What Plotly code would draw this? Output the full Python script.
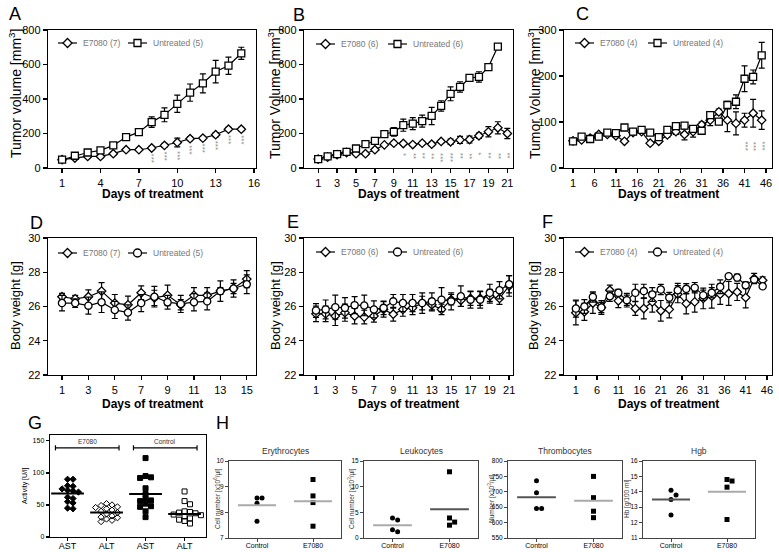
import plotly.graph_objects as go

W, H = 779, 552
FONT = "Liberation Sans, Arial, sans-serif"

# ---------------- data ----------------
A_days = list(range(1, 16))
A_untreated = [48, 71, 90, 102, 131, 179, 208, 266, 308, 372, 437, 491, 559, 593, 665]
A_untreated_err = [8, 10, 12, 15, 15, 15, 15, 30, 40, 50, 50, 55, 65, 50, 35]
A_e7080 = [48, 58, 67, 67, 83, 106, 106, 116, 131, 148, 170, 173, 193, 225, 225]
A_e7080_err = [5, 5, 8, 8, 8, 8, 8, 10, 12, 25, 12, 10, 12, 10, 10]
A_star_days = [8, 9, 10, 11, 12, 13, 14, 15]
A_stars = ["***"] * 8

B_days = list(range(1, 22))
B_untreated_days = list(range(1, 21))
B_untreated = [52, 67, 81, 94, 113, 138, 157, 196, 209, 248, 257, 272, 302, 360, 430, 470, 522, 528, 585, 704]
B_untreated_err = [8, 8, 8, 8, 8, 8, 8, 10, 25, 35, 35, 35, 50, 30, 40, 30, 15, 30, 10, 15]
B_e7080 = [52, 63, 77, 90, 83, 83, 106, 134, 144, 142, 136, 144, 138, 154, 152, 163, 165, 187, 210, 233, 200]
B_e7080_err = [5, 5, 5, 8, 8, 8, 8, 8, 10, 10, 10, 10, 10, 10, 15, 20, 20, 15, 30, 35, 30]
B_star_days = [10, 11, 12, 13, 14, 15, 16, 17, 18, 19, 20, 21]
B_stars = ["*", "**", "**", "**", "***", "***", "**", "**", "*", "**", "**", "**"]

C_days = list(range(1, 46, 2))
C_untreated = [58, 68, 63, 68, 77, 76, 88, 79, 83, 77, 67, 83, 91, 92, 85, 81, 115, 101, 137, 144, 194, 198, 245]
C_untreated_err = [4, 4, 4, 4, 4, 4, 4, 4, 4, 4, 4, 4, 4, 4, 4, 4, 6, 6, 8, 15, 28, 15, 28]
C_e7080 = [59, 61, 65, 73, 73, 70, 58, 77, 79, 54, 58, 72, 79, 73, 79, 94, 104, 122, 104, 97, 104, 119, 104]
C_e7080_err = [3, 3, 3, 3, 3, 3, 3, 3, 3, 3, 3, 5, 6, 12, 12, 6, 12, 6, 25, 25, 15, 30, 20]
C_star_days = [41, 43, 45]
C_stars = ["***", "***", "***"]

D_days = list(range(1, 16))
D_e7080 = [26.57, 26.45, 26.57, 26.9, 26.2, 26.1, 26.8, 26.5, 26.65, 26.1, 26.65, 26.65, 26.9, 27.05, 27.6]
D_e7080_err = [0.2, 0.2, 0.4, 0.5, 0.5, 0.5, 0.4, 0.45, 0.6, 0.3, 0.45, 0.45, 0.2, 0.3, 0.5]
D_untreated = [26.2, 26.2, 26.05, 26.25, 25.8, 25.65, 26.2, 26.57, 26.25, 26.15, 26.25, 26.3, 26.9, 27.05, 27.3]
D_untreated_err = [0.45, 0.25, 0.5, 0.6, 0.5, 0.45, 0.5, 0.6, 0.4, 0.5, 0.5, 0.5, 0.6, 0.5, 0.55]

E_days = list(range(1, 22))
E_e7080 = [25.57, 25.57, 25.44, 25.64, 25.44, 25.38, 25.44, 25.83, 25.55, 25.83, 25.92, 26.2, 26.1, 25.83, 26.4,
           26.36, 26.47, 26.47, 26.6, 26.47, 27.2]
E_e7080_err = [0.45, 0.45, 0.55, 0.5, 0.45, 0.4, 0.35, 0.45, 0.4, 0.4, 0.4, 0.4, 0.35, 0.3, 0.3, 0.35, 0.4, 0.4,
               0.4, 0.35, 0.6]
E_untreated = [25.77, 25.83, 25.96, 25.92, 26.08, 26.06, 25.83, 25.92, 26.3, 26.2, 26.2, 26.2, 26.3, 26.4, 26.3,
               26.6, 26.4, 26.4, 26.8, 26.95, 27.3]
E_untreated_err = [0.4, 0.55, 0.7, 0.6, 0.5, 0.6, 0.5, 0.4, 0.4, 0.5, 0.5, 0.6, 0.5, 0.7, 0.5, 0.6, 0.5, 0.5,
                   0.5, 0.5, 0.5]

F_days = list(range(1, 46, 2))
F_e7080 = [25.63, 25.69, 26.2, 25.94, 26.95, 26.33, 26.37, 25.88, 25.88, 26.27, 25.75, 25.83, 26.72, 26.17,
           26.27, 26.47, 26.6, 26.72, 26.76, 26.85, 26.52, 27.63, 27.53]
F_e7080_err = [0.7, 0.5, 0.6, 0.4, 0.3, 0.4, 0.4, 0.4, 0.6, 0.6, 0.6, 0.5, 0.5, 0.6, 0.6, 0.6, 0.7, 0.6, 0.7,
               0.5, 0.6, 0.3, 0.2]
F_untreated = [25.88, 26.0, 26.56, 25.94, 26.6, 26.8, 26.37, 26.8, 26.9, 26.7, 26.99, 26.52, 26.95, 27.03, 27.1,
               26.66, 26.8, 27.15, 27.77, 27.69, 27.24, 27.57, 27.18]
F_untreated_err = [0.5, 0.4, 0.3, 0.3, 0.3, 0.2, 0.3, 0.5, 0.4, 0.4, 0.3, 0.3, 0.4, 0.3, 0.3, 0.3, 0.3, 0.4,
                   0.1, 0.2, 0.2, 0.1, 0.1]

G_categories = ["AST", "ALT", "AST", "ALT"]
G_e7080_ast = [90, 90, 80, 79, 75, 73, 72, 70, 62, 60, 55, 53, 45, 44]
G_e7080_alt = [52, 50, 49, 47, 46, 44, 42, 40, 38, 36, 33, 31, 30, 28, 26, 24]
G_control_ast = [123, 95, 93, 92, 76, 67, 60, 57, 56, 52, 48, 47, 40, 31]
G_control_alt = [71, 56, 51, 40, 39, 37, 35, 34, 32, 29, 27, 25, 21, 38]
G_means = [68, 38, 67, 36]
G_groups = ["E7080", "Control"]

H_categories = ["Control", "E7080"]
ery_control = [8.56, 8.56, 8.35, 7.65]
ery_e7080 = [9.28, 8.64, 8.38, 7.46]
ery_means = [8.28, 8.43]
leuk_control = [3.9, 3.5, 1.6, 1.2]
leuk_e7080 = [12.9, 3.9, 3.1, 2.5]
leuk_means = [2.5, 5.6]
thr_control = [736, 697, 646, 646]
thr_e7080 = [750, 681, 637, 616]
thr_means = [682, 671]
hgb_control = [14.1, 13.8, 13.5, 12.5]
hgb_e7080 = [14.8, 14.7, 14.3, 12.2]
hgb_means = [13.5, 14.0]

# ---------------- helpers ----------------
fig = go.Figure()


def px(x):
    return x / W


def py(y):
    return 1 - y / H


def xd(a, b):
    return [a / W, b / W]


def yd(top, bottom):
    return [1 - bottom / H, 1 - top / H]


def axname(i, kind):
    return f"{kind}axis" if i == 1 else f"{kind}axis{i}"


def ref(i, kind):
    return kind if i == 1 else f"{kind}{i}"


def set_axes(i, xdom, ydom, xrange, yrange, xticks=None, yticks=None, xticktext=None, yticktext=None,
             tickfont=11, lc="black", lw=1.3, xtickfont=None, ticklen=4, xstandoff=0):
    common = dict(showline=True, mirror=True, linecolor=lc, linewidth=lw, ticks="outside", ticklen=ticklen,
                  tickcolor=lc, tickwidth=lw, showgrid=False, zeroline=False, fixedrange=True,
                  automargin=False)
    xa = dict(common, domain=xdom, range=xrange, anchor=ref(i, "y"), ticklabelstandoff=xstandoff,
              tickfont=dict(size=xtickfont or tickfont, color="black", family=FONT))
    ya = dict(common, domain=ydom, range=yrange, anchor=ref(i, "x"),
              tickfont=dict(size=tickfont, color="black", family=FONT))
    if xticks is not None:
        xa["tickvals"] = xticks
        if xticktext is not None:
            xa["ticktext"] = xticktext
    if yticks is not None:
        ya["tickvals"] = yticks
        if yticktext is not None:
            ya["ticktext"] = yticktext
    fig.layout[axname(i, "x")] = xa
    fig.layout[axname(i, "y")] = ya


def legend_item(xpx, ypx, symbol, text):
    cx = xpx + 9.5
    fig.add_shape(type="line", xref="paper", yref="paper", x0=px(xpx), x1=px(xpx + 19), y0=py(ypx), y1=py(ypx),
                  line=dict(color="black", width=1.2))
    mk = dict(xref="paper", yref="paper", fillcolor="white", line=dict(color="black", width=1.3))
    if symbol == "diamond":
        r = 4.5
        path = (f"M{px(cx)},{py(ypx - r)} L{px(cx + r)},{py(ypx)} L{px(cx)},{py(ypx + r)} "
                f"L{px(cx - r)},{py(ypx)} Z")
        fig.add_shape(type="path", path=path, **mk)
    elif symbol == "square":
        r = 3.5
        fig.add_shape(type="rect", x0=px(cx - r), x1=px(cx + r), y0=py(ypx + r), y1=py(ypx - r), **mk)
    else:
        r = 4
        fig.add_shape(type="circle", x0=px(cx - r), x1=px(cx + r), y0=py(ypx + r), y1=py(ypx - r), **mk)
    fig.add_annotation(x=px(xpx + 23), y=py(ypx), xref="paper", yref="paper", text=text, showarrow=False,
                       xanchor="left", yanchor="middle", font=dict(size=8.5, color="#777", family=FONT))


def series(i, x, y, err, symbol, name, lpos, size=8):
    fig.add_trace(go.Scatter(
        x=x, y=y, mode="lines+markers", name=name, showlegend=False,
        xaxis=ref(i, "x"), yaxis=ref(i, "y"),
        line=dict(color="black", width=1.2),
        marker=dict(symbol=symbol, size=size, color="white", line=dict(color="black", width=1.3)),
        error_y=dict(type="data", array=err, color="black", thickness=1.2, width=3),
    ))
    legend_item(lpos[0], lpos[1], symbol, name)


def stars(i, days, texts, tops):
    for d, t, top in zip(days, texts, tops):
        fig.add_annotation(x=d, y=top, xref=ref(i, "x"), yref=ref(i, "y"), text=t, textangle=90,
                           showarrow=False, yanchor="top", xanchor="center",
                           font=dict(size=8, color="#8a8a8a", family=FONT))


def ann(xpx, ypx, text, size, angle=0, bold=False, color="black"):
    fig.add_annotation(x=px(xpx), y=py(ypx), xref="paper", yref="paper",
                       text=f"<b>{text}</b>" if bold else text,
                       textangle=angle, showarrow=False, xanchor="center", yanchor="middle",
                       font=dict(size=size, color=color, family=FONT))


def swarm(values, tol, step):
    order = sorted(range(len(values)), key=lambda k: -values[k])
    placed = []
    offs = [0.0] * len(values)
    for k in order:
        n = 0
        while True:
            cand = 0.0 if n == 0 else ((n + 1) // 2) * step * (1 if n % 2 else -1)
            ok = all(not (abs(values[k] - v) < tol and abs(cand - o) < step * 0.95) for v, o in placed)
            if ok:
                break
            n += 1
        offs[k] = cand
        placed.append((values[k], cand))
    return offs


DIA, SQ, CIR = 6.5, 7, 7.2

# ---------------- top row: tumour volume ----------------
top_y = (30, 168)
set_axes(1, xd(48, 256), yd(*top_y), [-0.1, 16.15], [0, 800], list(range(1, 17, 3)), list(range(0, 801, 200)))
series(1, A_days, A_e7080, A_e7080_err, "diamond", "E7080 (7)", (58, 43), DIA)
series(1, A_days, A_untreated, A_untreated_err, "square", "Untreated (5)", (128, 43), SQ)
stars(1, A_star_days, A_stars,
      [A_e7080[A_days.index(d)] - A_e7080_err[A_days.index(d)] - 12 for d in A_star_days])

set_axes(2, xd(304, 513), yd(*top_y), [-0.5, 21.6], [0, 800], list(range(1, 22, 2)), list(range(0, 801, 200)))
series(2, B_days, B_e7080, B_e7080_err, "diamond", "E7080 (6)", (316, 44), DIA)
series(2, B_untreated_days, B_untreated, B_untreated_err, "square", "Untreated (6)", (388, 44), SQ)
stars(2, B_star_days, B_stars, [100] * len(B_star_days))

set_axes(3, xd(564, 772), yd(*top_y), [-1.1, 47.4], [0, 300], list(range(1, 47, 5)), [0, 100, 200, 300])
series(3, C_days, C_e7080, C_e7080_err, "diamond", "E7080 (4)", (575, 43), DIA)
series(3, C_days, C_untreated, C_untreated_err, "square", "Untreated (4)", (648, 43), SQ)
stars(3, C_star_days, C_stars, [62] * 3)

# ---------------- middle row: body weight ----------------
mid_y = (238, 375)
set_axes(4, xd(48, 256), yd(*mid_y), [-0.06, 15.7], [22, 30], list(range(1, 16, 2)), list(range(22, 31, 2)))
series(4, D_days, D_e7080, D_e7080_err, "diamond", "E7080 (7)", (58, 253), DIA)
series(4, D_days, D_untreated, D_untreated_err, "circle", "Untreated (5)", (128, 253), CIR)

set_axes(5, xd(304, 513), yd(*mid_y), [-0.24, 21.4], [22, 30], list(range(1, 22, 2)), list(range(22, 31, 2)))
series(5, E_days, E_e7080, E_e7080_err, "diamond", "E7080 (6)", (316, 252), DIA)
series(5, E_days, E_untreated, E_untreated_err, "circle", "Untreated (6)", (388, 252), CIR)

set_axes(6, xd(564, 772), yd(*mid_y), [-1.8, 47.2], [22, 30], list(range(1, 47, 5)), list(range(22, 31, 2)))
series(6, F_days, F_e7080, F_e7080_err, "diamond", "E7080 (4)", (575, 252), DIA)
series(6, F_days, F_untreated, F_untreated_err, "circle", "Untreated (4)", (648, 252), CIR)

# axis titles
for cx in (152, 408, 668):
    ann(cx, 194, "Days of treatment", 12, bold=True)
    ann(cx, 404, "Days of treatment", 12, bold=True)
ann(15, 94, "Tumor volume [mm<sup>3</sup>]", 14, -90)
ann(274, 94, "Tumor Volume [mm<sup>3</sup>]", 14, -90)
ann(534, 94, "Tumor Volume [mm<sup>3</sup>]", 14, -90)
for cx in (15, 275, 533):
    ann(cx, 306, "Body weight [g]", 13, -90)

# panel letters
for letter, (lx, ly) in {"A": (15, 14), "B": (299, 15), "C": (582, 14), "D": (36, 223), "E": (293, 222),
                         "F": (547, 222), "G": (35, 423), "H": (222, 423)}.items():
    ann(lx, ly, letter, 18)

# ---------------- G ----------------
set_axes(7, xd(50, 206), yd(435, 537), [-0.45, 3.55], [0, 159], [0, 1, 2, 3], [0, 50, 100, 150],
         xticktext=G_categories, tickfont=7, xtickfont=9, ticklen=3, xstandoff=-3)
g_sets = [(G_e7080_ast, "diamond", 4.8), (G_e7080_alt, "diamond-open", 4.8),
          (G_control_ast, "square", 5), (G_control_alt, "square-open", 5)]
for ci, (vals, sym, sz) in enumerate(g_sets):
    offs = swarm(vals, 7, 0.14)
    fig.add_trace(go.Scatter(x=[ci + o for o in offs], y=vals, mode="markers", showlegend=False,
                             xaxis="x7", yaxis="y7",
                             marker=dict(symbol=sym, size=sz, color="black", line=dict(color="black", width=1))))
    fig.add_trace(go.Scatter(x=[ci - 0.42, ci + 0.42], y=[G_means[ci]] * 2, mode="lines", showlegend=False,
                             xaxis="x7", yaxis="y7", line=dict(color="black", width=2)))
for gi, name in enumerate(G_groups):
    x0, x1 = 2 * gi - 0.31, 2 * gi + 1.32
    fig.add_shape(type="line", xref="x7", yref="y7", x0=x0, x1=x1, y0=139, y1=139,
                  line=dict(color="black", width=1.2))
    for xx in (x0, x1):
        fig.add_shape(type="line", xref="x7", yref="y7", x0=xx, x1=xx, y0=135, y1=143,
                      line=dict(color="black", width=1.2))
    fig.add_annotation(x=2 * gi + 0.5, y=149, xref="x7", yref="y7", text=name, showarrow=False,
                       font=dict(size=6.5, color="#333", family=FONT))
ann(25, 486, "Activity [U/l]", 7, -90)

# ---------------- H ----------------
h_panels = [
    (8, (229, 341), [7, 10], [7, 8, 9, 10], ery_control, ery_e7080, ery_means, ["#aaaaaa", "#aaaaaa"],
     "Erythrocytes", "Cell number [x10<sup>6</sup>/µl]", 217),
    (9, (364, 478), [0, 15], [0, 5, 10, 15], leuk_control, leuk_e7080, leuk_means, ["#aaaaaa", "#555555"],
     "Leukocytes", "Cell number [x10<sup>3</sup>/µl]", 351),
    (10, (508, 622), [550, 800], [550, 600, 650, 700, 750, 800], thr_control, thr_e7080, thr_means,
     ["#555555", "#aaaaaa"], "Thrombocytes", "Number [x10<sup>3</sup>/µl]", 491),
    (11, (643, 755), [11, 16], [11, 12, 13, 14, 15, 16], hgb_control, hgb_e7080, hgb_means,
     ["#555555", "#aaaaaa"], "Hgb", "Hb [g/100 ml]", 627),
]
for idx, (x0, x1), yr, yt, ctrl, e70, means, mcols, title, ytitle, ytx in h_panels:
    set_axes(idx, xd(x0, x1), yd(461, 538), [-0.5, 1.5], yr, [0, 1], yt, xticktext=H_categories,
             tickfont=6.5, xtickfont=7, lc="#444", lw=1, ticklen=3, xstandoff=-2)
    span = yr[1] - yr[0]
    for ci, (vals, sym) in enumerate([(ctrl, "circle"), (e70, "square")]):
        offs = swarm(vals, span * 0.07, 0.09)
        fig.add_trace(go.Scatter(x=[ci + o for o in offs], y=vals, mode="markers", showlegend=False,
                                 xaxis=ref(idx, "x"), yaxis=ref(idx, "y"),
                                 marker=dict(symbol=sym, size=5, color="black")))
        fig.add_trace(go.Scatter(x=[ci - 0.34, ci + 0.34], y=[means[ci]] * 2, mode="lines", showlegend=False,
                                 xaxis=ref(idx, "x"), yaxis=ref(idx, "y"),
                                 line=dict(color=mcols[ci], width=2)))
    ann((x0 + x1) / 2, 451, title, 8.5, color="#333")
    ann(ytx, 499, ytitle, 6.5, -90, color="#333")

fig.update_layout(width=W, height=H, margin=dict(l=0, r=0, t=0, b=0, pad=0, autoexpand=False),
                  paper_bgcolor="white", plot_bgcolor="white", font=dict(family=FONT), showlegend=False)
fig.write_html("out.html", config={"displayModeBar": False, "staticPlot": True},
               post_script="document.body.style.margin='0';document.body.style.padding='0';"
                           "document.body.style.overflow='hidden';")
